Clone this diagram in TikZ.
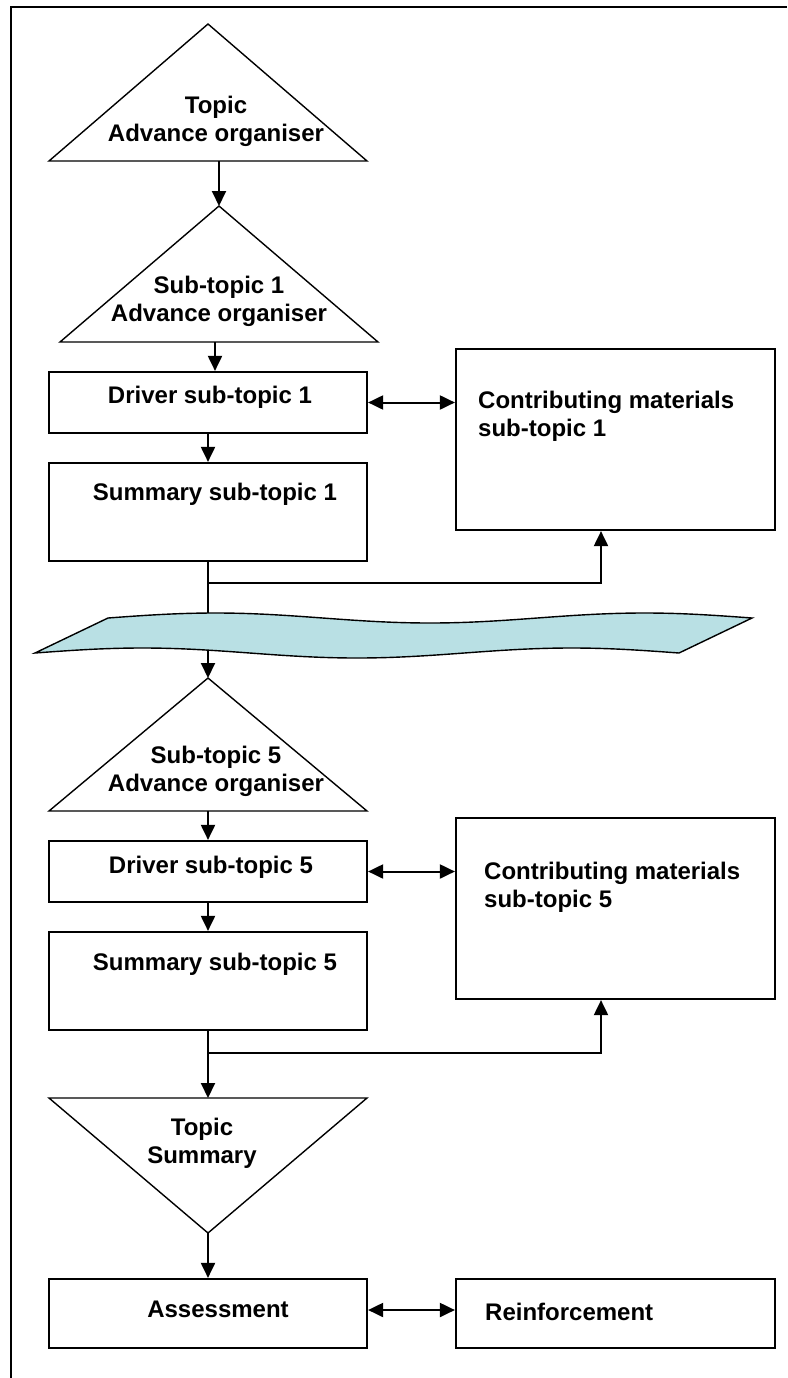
\documentclass[tikz,border=0pt]{standalone}
\usepackage{fontspec}
\setmainfont{Liberation Sans}
\usetikzlibrary{arrows.meta,calc}

\definecolor{wavefill}{RGB}{185,224,228}

\begin{document}
\begin{tikzpicture}[x=1pt,y=-1pt,
  box/.style={draw, line width=2.2pt, inner sep=0pt},
  txt/.style={font=\bfseries\fontsize{24}{28}\selectfont, inner sep=0pt, align=center},
  txtl/.style={txt, align=left, anchor=west},
  shapeline/.style={line width=1.4pt, line join=miter},
  link/.style={line width=2pt, -{Triangle[length=15pt,width=14pt]}},
  twoway/.style={line width=2pt, {Triangle[length=15pt,width=14pt]}-{Triangle[length=15pt,width=14pt]}},
  frameline/.style={line width=2pt}
]
\useasboundingbox (0,0) rectangle (787,1378);

% page frame
\draw[frameline] (11,1378) -- (11,7) -- (787,7);

% topic advance organiser
\coordinate (t1apex) at (208,24);
\coordinate (t1base) at (219,161);
\draw[shapeline] (t1apex) -- (367,161) -- (49,161) -- cycle;
\node[txt] (t1text) at (216,121) {Topic\\Advance organiser};

% sub-topic 1 advance organiser
\coordinate (t2apex) at (219,206);
\coordinate (t2base) at (215,342);
\draw[shapeline] (t2apex) -- (378,342) -- (60,342) -- cycle;
\node[txt] (t2text) at (219,301) {Sub-topic 1\\Advance organiser};
\draw[link] (t1base) -- (t2apex);

% sub-topic 1 boxes
\node[box, minimum width=318pt, minimum height=61pt] (drv1) at (208,402.5) {};
\node[txt] (drv1text) at (210,397) {Driver sub-topic 1};
\node[box, minimum width=318pt, minimum height=98pt] (sum1) at (208,512) {};
\node[txt] (sum1text) at (215,494) {Summary sub-topic 1};
\node[box, minimum width=319pt, minimum height=181pt] (con1) at (615.5,439.5) {};
\node[txtl] (con1text) at (478,416.5) {Contributing materials\\sub-topic 1};

\draw[link] (t2base) -- (t2base |- drv1.north);
\draw[link] (drv1.south) -- (sum1.north);
\draw[twoway] (drv1.east) -- (drv1.east -| con1.west);
\coordinate (j1) at (208,583);
\draw[link] (j1) -| ([xshift=-14.5pt]con1.south);
\coordinate (t5apex) at (208,678);
\draw[link] (sum1.south) -- (t5apex);

% wavy band standing for the skipped sub-topics
\draw[shapeline, fill=wavefill]
  plot[domain=108:752, samples=90, smooth] (\x,{618-5*sin(0.83857*(\x-108))})
  -- plot[domain=679:35, samples=90, smooth] (\x,{653-5*sin(0.83857*(\x-35))})
  -- cycle;

% sub-topic 5 advance organiser
\coordinate (t5base) at (208,811);
\draw[shapeline] (t5apex) -- (367,811) -- (49,811) -- cycle;
\node[txt] (t5text) at (216,771) {Sub-topic 5\\Advance organiser};

% sub-topic 5 boxes
\node[box, minimum width=318pt, minimum height=61pt] (drv5) at (208,871.5) {};
\node[txt] (drv5text) at (211,867) {Driver sub-topic 5};
\node[box, minimum width=318pt, minimum height=98pt] (sum5) at (208,981) {};
\node[txt] (sum5text) at (215,964) {Summary sub-topic 5};
\node[box, minimum width=319pt, minimum height=181pt] (con5) at (615.5,908.5) {};
\node[txtl] (con5text) at (484,887.5) {Contributing materials\\sub-topic 5};

\draw[link] (t5base) -- (drv5.north);
\draw[link] (drv5.south) -- (sum5.north);
\draw[twoway] (drv5.east) -- (drv5.east -| con5.west);
\coordinate (j5) at (208,1053);
\draw[link] (j5) -| ([xshift=-14.5pt]con5.south);

% topic summary
\coordinate (tstop) at (208,1098);
\coordinate (tsapex) at (208,1233);
\draw[shapeline] (49,1098) -- (367,1098) -- (tsapex) -- cycle;
\node[txt] (tstext) at (202,1143.5) {Topic\\Summary};
\draw[link] (sum5.south) -- (tstop);

% assessment and reinforcement
\node[box, minimum width=318pt, minimum height=69pt] (asm) at (208,1313.5) {};
\node[txt] (asmtext) at (218,1309) {Assessment};
\node[box, minimum width=319pt, minimum height=69pt] (rein) at (615.5,1313.5) {};
\node[txtl] (reintext) at (485,1312) {Reinforcement};

\draw[link] (tsapex) -- (asm.north);
\draw[twoway] ([yshift=3.5pt]asm.east) -- ([yshift=3.5pt]rein.west);
\end{tikzpicture}
\end{document}
